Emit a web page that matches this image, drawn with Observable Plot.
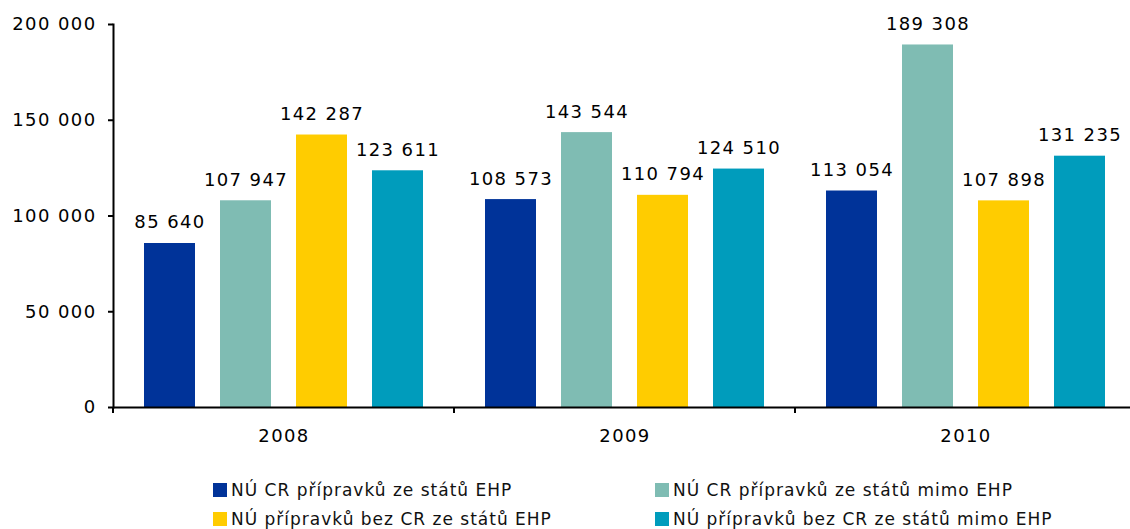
<!DOCTYPE html>
<html><head><meta charset="utf-8">
<script src="https://cdn.jsdelivr.net/npm/d3@7"></script>
<script src="https://cdn.jsdelivr.net/npm/@observablehq/plot@0.6"></script>
<style>
body{margin:0;background:#fff;font-family:"DejaVu Sans",Verdana,sans-serif;color:#000;}
#wrap{position:relative;width:1130px;height:529px;overflow:hidden;}
#chart svg text{letter-spacing:1.4px;}
.item{position:absolute;display:flex;align-items:center;font-size:17px;letter-spacing:1px;white-space:nowrap;color:#111;}
.sw{width:14px;height:14px;margin-right:4px;}
</style></head><body><div id="wrap"><div id="chart"></div></div>
<script>
const years = ["2008", "2009", "2010"];
const series = [
  "NÚ CR přípravků ze států EHP",
  "NÚ CR přípravků ze států mimo EHP",
  "NÚ přípravků bez CR ze států EHP",
  "NÚ přípravků bez CR ze států mimo EHP"
];
const colors = ["#003399", "#7FBCB3", "#FFCC00", "#009CBC"];
const values2008 = [85640, 107947, 142287, 123611];
const values2009 = [108573, 143544, 110794, 124510];
const values2010 = [113054, 189308, 107898, 131235];
const yTicks = [0, 50000, 100000, 150000, 200000];

const byYear = [values2008, values2009, values2010];
const data = years.flatMap((yr, i) => series.map((s, j) => ({year: yr, series: s, value: byYear[i][j]})));
const fmt = n => d3.format(",d")(n).replace(/,/g, "\u00a0");

const separators = (index, scales, values, dim) => {
  const g = d3.create("svg:g");
  const y0 = scales.y(0);
  g.append("line").attr("x1", dim.marginLeft).attr("x2", dim.marginLeft)
    .attr("y1", y0).attr("y2", y0 + 6).attr("stroke", "#000").attr("stroke-width", 2);
  return g.node();
};

const chart = Plot.plot({
  width: 1130, height: 460,
  marginLeft: 113, marginRight: -6, marginTop: 24, marginBottom: 53,
  style: {fontFamily: "'DejaVu Sans', Verdana, sans-serif", fontSize: "18px", color: "#000", background: "#fff"},
  fx: {domain: years, paddingInner: 0, paddingOuter: 0, label: null, tickSize: 0, tickPadding: 22, axis: "bottom"},
  x: {domain: series, axis: null, paddingInner: 0.333, paddingOuter: 0.4},
  y: {domain: [0, 200000], axis: null},
  color: {domain: series, range: colors},
  marks: [
    Plot.barY(data, {fx: "year", x: "series", y: "value", fill: "series"}),
    Plot.text(data, {fx: "year", x: "series", y: "value", text: d => fmt(d.value), lineAnchor: "bottom", dy: -15, fontSize: 18, fill: "#000"}),
    Plot.axisY({ticks: yTicks, tickFormat: fmt, tickSize: 5, tickPadding: 12, strokeWidth: 2, label: null, fontSize: 18}),
    Plot.frame({anchor: "left", facetAnchor: "left", strokeWidth: 2}),
    Plot.ruleY([0], {strokeWidth: 2}),
    separators
  ]
});
document.getElementById("chart").appendChild(chart);

const wrap = document.getElementById("wrap");
const pos = [[213, 480], [655, 480], [213, 509], [655, 509]];
series.forEach((s, i) => {
  const it = document.createElement("div");
  it.className = "item";
  it.style.left = pos[i][0] + "px";
  it.style.top = pos[i][1] + "px";
  it.innerHTML = `<div class="sw" style="background:${colors[i]}"></div><span>${s}</span>`;
  wrap.appendChild(it);
});
</script></body></html>
